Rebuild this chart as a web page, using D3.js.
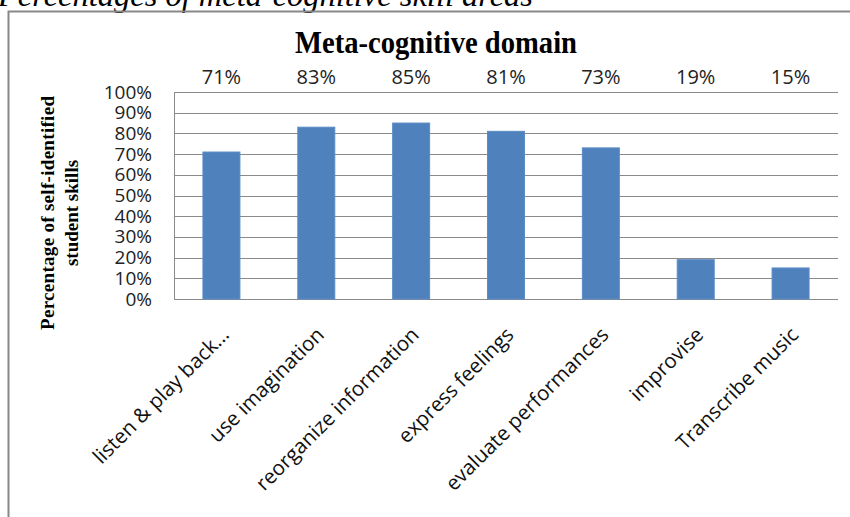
<!DOCTYPE html>
<html>
<head>
<meta charset="utf-8">
<script src="https://cdn.jsdelivr.net/npm/d3@7"></script>
<style>
  body { margin: 0; background: #fff; }
  svg { display: block; }
</style>
</head>
<body>
<svg width="850" height="517"></svg>
<script>
var categories = ["listen & play back...", "use imagination", "reorganize information",
  "express feelings", "evaluate performances", "improvise", "Transcribe music"];
var values = [71, 83, 85, 81, 73, 19, 15];
var yTicks = [0, 10, 20, 30, 40, 50, 60, 70, 80, 90, 100];

var svg = d3.select("svg");
var plotLeft = 174, plotRight = 838, plotTop = 92, plotBottom = 299;

// caption above the frame (cut off in the source)
svg.append("text")
    .attr("x", -2).attr("y", 6)
    .attr("textLength", 535)
    .attr("lengthAdjust", "spacingAndGlyphs")
    .style("font-family", "'Liberation Serif', serif")
    .style("font-style", "italic")
    .style("font-size", "31px")
    .text("Percentages of meta-cognitive skill areas");

// frame
svg.append("path")
    .attr("d", "M8.5,517 V11.5 H850")
    .attr("fill", "none")
    .attr("stroke", "#888")
    .attr("stroke-width", 2);

var x = d3.scaleBand().domain(categories).range([plotLeft, plotRight]).paddingInner(0.61).paddingOuter(0.305);
var y = d3.scaleLinear().domain([0, 100]).range([plotBottom, plotTop]);

// gridlines
svg.append("g").selectAll("line").data(yTicks).join("line")
    .attr("x1", plotLeft).attr("x2", plotRight)
    .attr("y1", function(d) { return Math.round(y(d)) + 0.5; })
    .attr("y2", function(d) { return Math.round(y(d)) + 0.5; })
    .attr("stroke", "#8a8a8a");

svg.append("line")
    .attr("x1", plotLeft + 0.5).attr("x2", plotLeft + 0.5)
    .attr("y1", plotTop).attr("y2", plotBottom)
    .attr("stroke", "#8a8a8a");

// y tick labels
var yAxis = d3.axisLeft(y).tickValues(yTicks).tickSize(0).tickPadding(22)
    .tickFormat(function(d) { return d + "%"; });
var gy = svg.append("g").attr("transform", "translate(" + plotLeft + ",0)").call(yAxis);
gy.select(".domain").remove();
gy.selectAll("text")
    .style("font-family", "'Open Sans', sans-serif")
    .style("font-size", "19px")
    .attr("fill", "#222");

// bars
svg.append("g").selectAll("rect").data(values).join("rect")
    .attr("x", function(d, i) { return x(categories[i]); })
    .attr("y", function(d) { return y(d); })
    .attr("width", x.bandwidth())
    .attr("height", function(d) { return y(0) - y(d); })
    .attr("fill", "#4f81bd")
    .attr("stroke", "#5b8cc6")
    .attr("stroke-width", 1);

// value labels along the top
svg.append("g").selectAll("text").data(values).join("text")
    .attr("x", function(d, i) { return x(categories[i]) + x.bandwidth() / 2; })
    .attr("y", 84)
    .attr("text-anchor", "middle")
    .style("font-family", "'Open Sans', sans-serif")
    .style("font-size", "20px")
    .attr("fill", "#222")
    .text(function(d) { return d + "%"; });

// x category labels
svg.append("g").selectAll("text").data(categories).join("text")
    .attr("transform", function(d) {
      var cx = x(d) + x.bandwidth() / 2;
      return "translate(" + (cx + 9) + ",336) rotate(-45)";
    })
    .attr("text-anchor", "end")
    .style("font-family", "'Open Sans', sans-serif")
    .style("font-size", "20.5px")
    .attr("fill", "#111")
    .text(function(d) { return d; });

// chart title
svg.append("text")
    .attr("x", 436).attr("y", 53)
    .attr("text-anchor", "middle")
    .attr("textLength", 282)
    .attr("lengthAdjust", "spacingAndGlyphs")
    .style("font-family", "'Liberation Serif', serif")
    .style("font-weight", "bold")
    .style("font-size", "31px")
    .text("Meta-cognitive domain");

// y axis title
var yt = svg.append("text")
    .attr("transform", "translate(0,213) rotate(-90)")
    .attr("text-anchor", "middle")
    .style("font-family", "'Liberation Serif', serif")
    .style("font-weight", "bold")
    .style("font-size", "19px");
yt.append("tspan").attr("x", 0).attr("y", 54).attr("textLength", 234).text("Percentage of self-identified");
yt.append("tspan").attr("x", 0).attr("y", 78).text("student skills");
</script>
</body>
</html>
